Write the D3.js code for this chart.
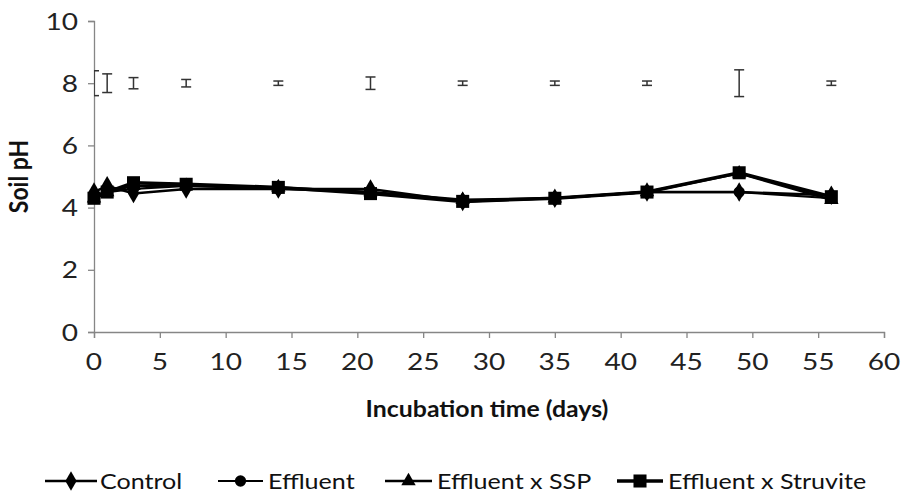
<!DOCTYPE html>
<html><head><meta charset="utf-8">
<script src="https://cdn.jsdelivr.net/npm/d3@7"></script>
<style>body{margin:0;background:#fff}svg{display:block}text{font-family:Lato,"Open Sans",sans-serif}</style>
</head><body>
<script>
const days = [0, 1, 3, 7, 14, 21, 28, 35, 42, 49, 56];
const control = [4.5, 4.7, 4.45, 4.6, 4.6, 4.6, 4.2, 4.3, 4.5, 4.5, 4.4];
const effluent = [4.4, 4.5, 4.6, 4.7, 4.6, 4.5, 4.2, 4.3, 4.5, 4.5, 4.3];
const effluentSSP = [4.3, 4.5, 4.7, 4.7, 4.65, 4.5, 4.25, 4.3, 4.5, 5.1, 4.25];
const effluentStruvite = [4.3, 4.5, 4.8, 4.75, 4.65, 4.45, 4.2, 4.3, 4.5, 5.12, 4.35];
const lsdCenter = 8;
const lsdHalf = [0.4, 0.3, 0.18, 0.12, 0.07, 0.2, 0.07, 0.07, 0.07, 0.43, 0.07];
const xTicks = [0, 5, 10, 15, 20, 25, 30, 35, 40, 45, 50, 55, 60];
const yTicks = [0, 2, 4, 6, 8, 10];
const seriesNames = ["Control", "Effluent", "Effluent x SSP", "Effluent x Struvite"];

const W = 902, H = 493;
const svg = d3.select("body").append("svg").attr("width", W).attr("height", H);
const x = d3.scaleLinear().domain([0, 60]).range([94, 884]);
const y = d3.scaleLinear().domain([0, 10]).range([332, 21]);
const axisCol = "#868686";

// stretched text helper (reference text is horizontally widened)
function stext(parent, px, py, str, opts) {
  const g = parent.append("g").attr("transform", `translate(${px},${py})${opts.rot ? " rotate(" + opts.rot + ")" : ""} scale(${opts.sx || 1},${opts.sy || 1})`);
  return g.append("text").attr("x", 0).attr("y", 0)
    .attr("text-anchor", opts.anchor || "start")
    .attr("font-size", opts.size).attr("font-weight", opts.weight || "normal")
    .attr("fill", opts.fill || "#222").text(str);
}

// y axis
const ya = svg.append("g").attr("transform", `translate(${x(0)},0)`)
  .call(d3.axisLeft(y).tickValues(yTicks).tickSize(6).tickFormat(""));
ya.select(".domain").attr("stroke", axisCol).attr("stroke-width", 1.3);
ya.selectAll(".tick line").attr("stroke", axisCol).attr("stroke-width", 1.3);
yTicks.forEach(t => stext(svg, 78, y(t) + 8.5, String(t), {size: 23, sx: 1.22, anchor: "end"}));

// x axis
const xa = svg.append("g").attr("transform", `translate(0,${y(0)})`)
  .call(d3.axisBottom(x).tickValues(xTicks).tickSize(6).tickFormat(""));
xa.select(".domain").attr("stroke", axisCol).attr("stroke-width", 1.3);
xa.selectAll(".tick line").attr("stroke", axisCol).attr("stroke-width", 1.3);
xTicks.forEach(t => stext(svg, x(t), 370, String(t), {size: 23, sx: 1.22, anchor: "middle"}));

// titles
stext(svg, 28, (y(0) + y(10)) / 2, "Soil pH", {size: 23, weight: "bold", anchor: "middle", rot: -90, sy: 1.15, fill: "#111"});
stext(svg, (x(0) + x(60)) / 2 - 2, 417, "Incubation time (days)", {size: 22, weight: "bold", anchor: "middle", sx: 1.13, fill: "#111"});

// clip
svg.append("clipPath").attr("id", "clip").append("rect")
  .attr("x", x(0)).attr("y", y(10)).attr("width", x(60) - x(0)).attr("height", y(0) - y(10));

// LSD error bars
const eb = svg.append("g").attr("clip-path", "url(#clip)").attr("stroke", "#333").attr("stroke-width", 1.5);
days.forEach((d, i) => {
  const cx = x(d), t = y(lsdCenter + lsdHalf[i]), b = y(lsdCenter - lsdHalf[i]);
  eb.append("line").attr("x1", cx).attr("x2", cx).attr("y1", t).attr("y2", b);
  eb.append("line").attr("x1", cx - 5).attr("x2", cx + 5).attr("y1", t).attr("y2", t);
  eb.append("line").attr("x1", cx - 5).attr("x2", cx + 5).attr("y1", b).attr("y2", b);
});

const series = [control, effluent, effluentSSP, effluentStruvite];
const sym = [d3.symbolDiamond, d3.symbolCircle, d3.symbolTriangle, d3.symbolSquare];
const symSize = [110, 100, 90, 170];
const lw = [2.5, 2.2, 2.5, 3.5];
const line = d3.line().x((v, i) => x(days[i])).y(v => y(v));

series.forEach((s, k) => {
  svg.append("path").datum(s).attr("d", line).attr("fill", "none").attr("stroke", "#000").attr("stroke-width", lw[k]);
});
series.forEach((s, k) => {
  svg.append("g").selectAll("path").data(s).join("path")
    .attr("transform", (v, i) => `translate(${x(days[i])},${y(v)})`)
    .attr("d", d3.symbol().type(sym[k]).size(symSize[k])).attr("fill", "#000");
});

// legend
const legLine = [[45, 97], [218, 263], [385, 432], [617, 663]];
const legText = [100, 268, 437, 668];
const ly = 481;
seriesNames.forEach((n, k) => {
  const [a, b] = legLine[k];
  svg.append("line").attr("x1", a).attr("x2", b).attr("y1", ly).attr("y2", ly).attr("stroke", "#000").attr("stroke-width", lw[k]);
  svg.append("path").attr("transform", `translate(${(a + b) / 2},${ly})`).attr("d", d3.symbol().type(sym[k]).size(symSize[k])).attr("fill", "#000");
  stext(svg, legText[k], ly + 8, n, {size: 22, sx: 1.14, fill: "#111"});
});
</script>
</body></html>
